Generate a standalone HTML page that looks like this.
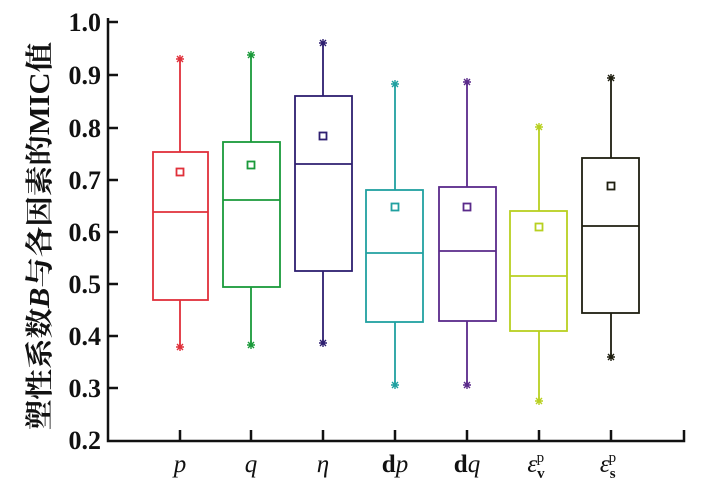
<!DOCTYPE html><html><head><style>body{margin:0;background:#fff}</style></head><body>
<svg width="715" height="481" xmlns="http://www.w3.org/2000/svg" font-family="Liberation Serif, serif">
<defs>
<path id="st" d="M-4,0 H4 M0,-4 V4 M-3,-3 L3,3 M-3,3 L3,-3" stroke-width="1.4"/>
</defs>
<rect width="715" height="481" fill="#fff"/>
<g stroke="#111" stroke-width="2.5" fill="none">
<path d="M108,18 V441 H684 V430"/>
<path d="M108,388 h10 M108,336 h10 M108,284 h10 M108,232 h10 M108,180 h10 M108,128 h10 M108,75 h10 M108,22 h10"/>
<path d="M180,441 v-11 M251,441 v-11 M323,441 v-11 M395,441 v-11 M467,441 v-11 M539,441 v-11 M611,441 v-11"/>
</g>
<g font-size="26" font-weight="bold" text-anchor="end" fill="#111">
<text x="101" y="449">0.2</text><text x="101" y="397">0.3</text><text x="101" y="345">0.4</text><text x="101" y="293">0.5</text><text x="101" y="241">0.6</text><text x="101" y="189">0.7</text><text x="101" y="137">0.8</text><text x="101" y="84">0.9</text><text x="101" y="31">1.0</text>
</g>
<text transform="translate(49,236) rotate(-90)" text-anchor="middle" font-size="28" font-weight="bold" fill="#111" textLength="388" lengthAdjust="spacingAndGlyphs" font-family="Liberation Serif, Noto Serif CJK SC, serif">塑性系数<tspan font-style="italic">B</tspan>与各因素的MIC值</text>
<g font-size="25" fill="#111" text-anchor="middle">
<text x="180" y="472" font-style="italic">p</text>
<text x="251" y="472" font-style="italic">q</text>
<text x="323" y="472" font-style="italic">η</text>
<text x="395" y="472"><tspan font-weight="bold">d</tspan><tspan font-style="italic">p</tspan></text>
<text x="467" y="472"><tspan font-weight="bold">d</tspan><tspan font-style="italic">q</tspan></text>
<text x="536" y="472" font-style="italic">ε<tspan font-size="15" dy="6" font-style="normal" font-weight="bold">v</tspan><tspan font-size="15" dx="-8" dy="-16" font-style="normal">p</tspan></text>
<text x="608" y="472" font-style="italic">ε<tspan font-size="15" dy="6" font-style="normal" font-weight="bold">s</tspan><tspan font-size="15" dx="-7" dy="-16" font-style="normal">p</tspan></text>
</g>
<g fill="none" stroke-width="1.8">
<g stroke="#e0303a"><path d="M180,59 V152 M180,300 V347"/><rect x="153" y="152" width="55" height="148"/><path d="M153,212 h55"/><rect x="176.5" y="168.5" width="7" height="7"/><use href="#st" x="180" y="59"/><use href="#st" x="180" y="347"/></g>
<g stroke="#1a9a3a"><path d="M251,55 V142 M251,287 V345"/><rect x="223" y="142" width="57" height="145"/><path d="M223,200 h57"/><rect x="247.5" y="161.5" width="7" height="7"/><use href="#st" x="251" y="55"/><use href="#st" x="251" y="345"/></g>
<g stroke="#2e1f70"><path d="M323,43 V96 M323,271 V343"/><rect x="295" y="96" width="57" height="175"/><path d="M295,164 h57"/><rect x="319.5" y="132.5" width="7" height="7"/><use href="#st" x="323" y="43"/><use href="#st" x="323" y="343"/></g>
<g stroke="#20a0a0"><path d="M395,84 V190 M395,322 V385"/><rect x="366" y="190" width="57" height="132"/><path d="M366,253 h57"/><rect x="391.5" y="203.5" width="7" height="7"/><use href="#st" x="395" y="84"/><use href="#st" x="395" y="385"/></g>
<g stroke="#5a2a8a"><path d="M467,82 V187 M467,321 V385"/><rect x="439" y="187" width="57" height="134"/><path d="M439,251 h57"/><rect x="463.5" y="203.5" width="7" height="7"/><use href="#st" x="467" y="82"/><use href="#st" x="467" y="385"/></g>
<g stroke="#b8d020"><path d="M539,127 V211 M539,331 V401"/><rect x="510" y="211" width="57" height="120"/><path d="M510,276 h57"/><rect x="535.5" y="223.5" width="7" height="7"/><use href="#st" x="539" y="127"/><use href="#st" x="539" y="401"/></g>
<g stroke="#1e1e10"><path d="M611,78 V158 M611,313 V357"/><rect x="582" y="158" width="57" height="155"/><path d="M582,226 h57"/><rect x="607.5" y="182.5" width="7" height="7"/><use href="#st" x="611" y="78"/><use href="#st" x="611" y="357"/></g>
</g>
</svg>
</body></html>
